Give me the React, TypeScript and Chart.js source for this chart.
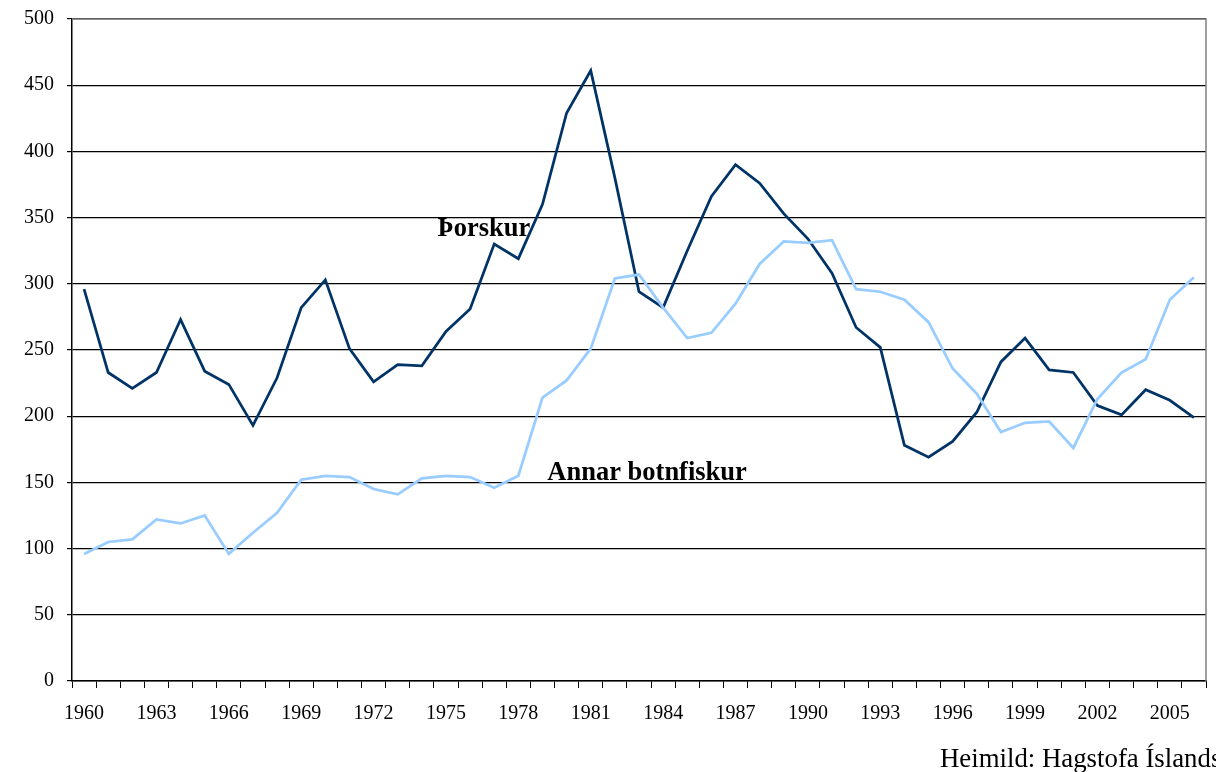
import React, { useEffect, useRef } from "react";
import { Chart, registerables } from "chart.js";

Chart.register(...registerables);

const years: string[] = [];
for (let y = 1960; y <= 2006; y++) years.push(String(y));

const thorskur = [
  296, 233, 221, 233, 273, 234, 224, 193, 229, 282,
  303, 251, 226, 239, 238, 264, 281, 330, 319, 360,
  429, 461, 380, 294, 282, 325, 366, 390, 376, 353,
  334, 308, 267, 252, 178, 169, 181, 203, 241, 259,
  235, 233, 208, 201, 220, 212, 199,
];

const annarBotnfiskur = [
  96, 105, 107, 122, 119, 125, 96, 112, 127, 152,
  155, 154, 145, 141, 153, 155, 154, 146, 155, 214,
  227, 251, 304, 307, 282, 259, 263, 285, 315, 332,
  331, 333, 296, 294, 288, 271, 236, 217, 188, 195,
  196, 176, 213, 233, 243, 288, 305,
];

const yTicks = { min: 0, max: 500, step: 50 };

const seriesLabels = [
  { text: "Þorskur", xIndex: 14.65, value: 336 },
  { text: "Annar botnfiskur", xIndex: 19.2, value: 152 },
];

const sourceText = "Heimild: Hagstofa Íslands";

const SERIF = "'Liberation Serif', 'Times New Roman', serif";

export default function App() {
  const ref = useRef<HTMLCanvasElement | null>(null);

  useEffect(() => {
    document.body.style.margin = "0";
    const canvas = ref.current;
    if (!canvas) return;

    const overlay = {
      id: "overlay",
      afterDraw(chart: any) {
        const { ctx, chartArea, scales } = chart;
        ctx.save();
        ctx.strokeStyle = "#808080";
        ctx.lineWidth = 1.5;
        ctx.beginPath();
        ctx.moveTo(chartArea.left, chartArea.top);
        ctx.lineTo(chartArea.right, chartArea.top);
        ctx.lineTo(chartArea.right, chartArea.bottom);
        ctx.stroke();
        ctx.fillStyle = "#000";
        ctx.font = `bold 26.5px ${SERIF}`;
        ctx.textAlign = "left";
        ctx.textBaseline = "alphabetic";
        for (const l of seriesLabels) {
          const x = scales.x.getPixelForValue(l.xIndex);
          const y = scales.y.getPixelForValue(l.value);
          ctx.fillText(l.text, x, y);
        }
        ctx.font = `26.8px ${SERIF}`;
        ctx.fillText(sourceText, 940, 767);
        ctx.restore();
      },
    };

    const chart = new Chart(canvas, {
      type: "line",
      data: {
        labels: years,
        datasets: [
          {
            label: "Annar botnfiskur",
            data: annarBotnfiskur,
            borderColor: "#99CCFF",
            borderWidth: 2.75,
            pointRadius: 0,
            tension: 0,
            order: 0,
          },
          {
            label: "Þorskur",
            data: thorskur,
            borderColor: "#003366",
            borderWidth: 2.75,
            pointRadius: 0,
            tension: 0,
            order: 1,
          },
        ],
      },
      options: {
        animation: false,
        responsive: false,
        devicePixelRatio: 1,
        layout: { padding: { left: 0, top: 19, right: 10, bottom: 0 } },
        plugins: {
          legend: { display: false },
          tooltip: { enabled: false },
        },
        scales: {
          x: {
            type: "category",
            offset: true,
            afterFit(scale: any) {
              scale.height = 91;
              scale.paddingLeft = 0;
              scale.paddingRight = 0;
            },
            grid: {
              offset: true,
              drawOnChartArea: false,
              drawTicks: true,
              tickLength: 7,
              color: "#000",
              lineWidth: 1,
            },
            border: { display: true, color: "#000", width: 1.5 },
            ticks: {
              autoSkip: false,
              maxRotation: 0,
              minRotation: 0,
              padding: 14,
              color: "#000",
              font: { family: SERIF, size: 20 },
              callback(value: any, index: number) {
                const yr = Number(years[index]);
                return (yr - 1960) % 3 === 0 ? years[index] : "";
              },
            },
          },
          y: {
            min: yTicks.min,
            max: yTicks.max,
            afterFit(scale: any) {
              scale.width = 72;
              scale.paddingTop = 0;
              scale.paddingBottom = 0;
            },
            grid: {
              color: "#000",
              lineWidth: 1.2,
              drawTicks: true,
              tickLength: 5,
            },
            border: { display: true, color: "#000", width: 1.5 },
            ticks: {
              stepSize: yTicks.step,
              padding: 13,
              color: "#000",
              font: { family: SERIF, size: 20 },
            },
          },
        },
      },
      plugins: [overlay],
    });

    return () => chart.destroy();
  }, []);

  return (
    <div style={{ position: "absolute", left: 0, top: 0, width: 1216, height: 772, background: "#fff" }}>
      <canvas ref={ref} width={1216} height={772} style={{ display: "block" }} />
    </div>
  );
}
